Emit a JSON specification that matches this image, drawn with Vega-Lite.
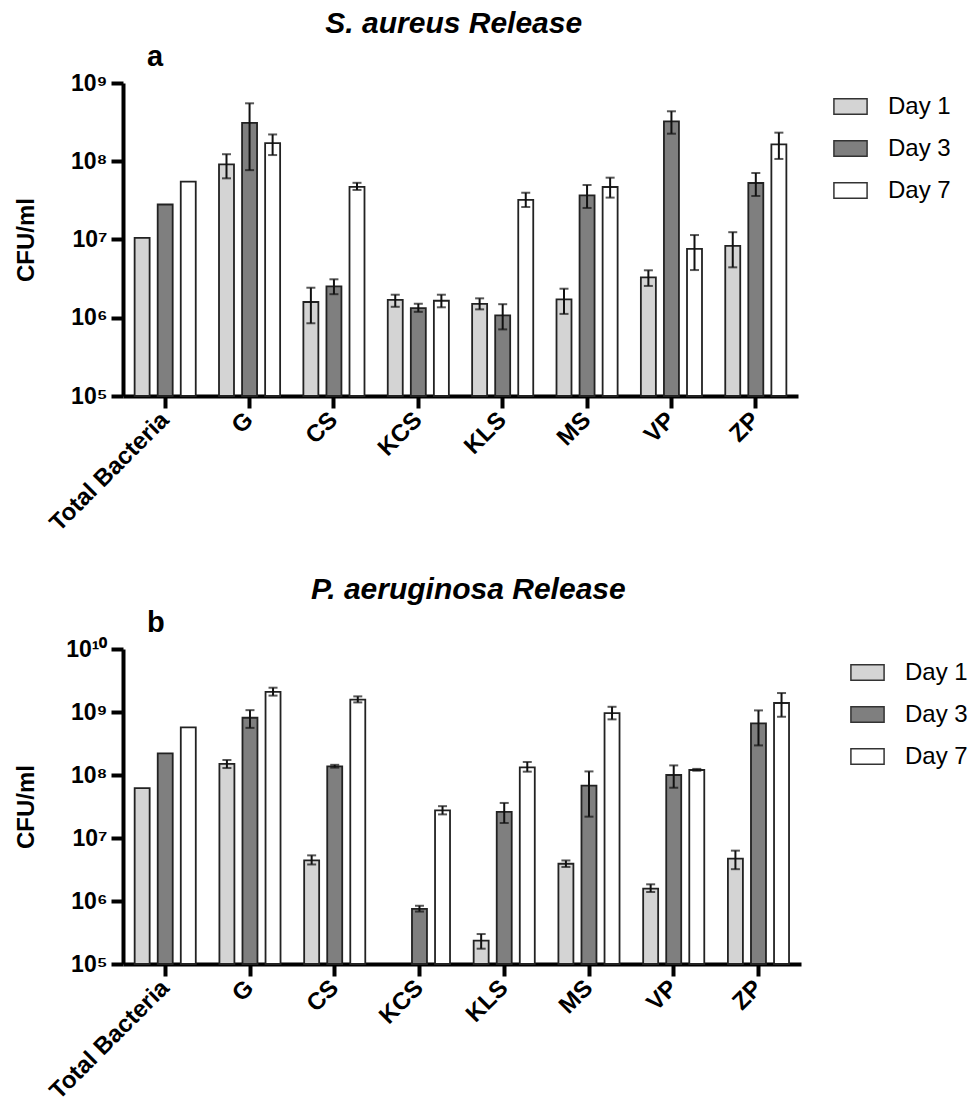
{
  "$schema": "https://vega.github.io/schema/vega-lite/v6.json",
  "padding": {"left": 14, "top": 9, "right": 5, "bottom": 0},
  "background": "white",
  "config": {
    "font": "Liberation Sans",
    "view": {"stroke": null},
    "axis": {"grid": false, "domainColor": "#000", "domainWidth": 4, "tickColor": "#000", "tickWidth": 4, "tickSize": 12, "labelColor": "#000", "labelFontWeight": "bold", "titleColor": "#000"},
    "legend": {"symbolStrokeColor": "#333", "symbolStrokeWidth": 1.5, "labelFontSize": 24, "labelColor": "#000", "labelOffset": 20, "rowPadding": 12, "padding": 6, "title": null},
    "title": {"color": "#000"}
  },
  "datasets": {
    "saureus": [
      {"cat": "Total Bacteria", "day": "Day 1", "v": 1.05e7, "lo": null, "hi": null},
      {"cat": "Total Bacteria", "day": "Day 3", "v": 2.8e7, "lo": null, "hi": null},
      {"cat": "Total Bacteria", "day": "Day 7", "v": 5.5e7, "lo": null, "hi": null},
      {"cat": "G", "day": "Day 1", "v": 9.1e7, "lo": 6.05e7, "hi": 1.23e8},
      {"cat": "G", "day": "Day 3", "v": 3.1e8, "lo": 7.7e7, "hi": 5.5e8},
      {"cat": "G", "day": "Day 7", "v": 1.7e8, "lo": 1.2e8, "hi": 2.2e8},
      {"cat": "CS", "day": "Day 1", "v": 1.59e6, "lo": 8.5e5, "hi": 2.42e6},
      {"cat": "CS", "day": "Day 3", "v": 2.52e6, "lo": 2.0e6, "hi": 3.1e6},
      {"cat": "CS", "day": "Day 7", "v": 4.7e7, "lo": 4.3e7, "hi": 5.3e7},
      {"cat": "KCS", "day": "Day 1", "v": 1.69e6, "lo": 1.38e6, "hi": 1.97e6},
      {"cat": "KCS", "day": "Day 3", "v": 1.33e6, "lo": 1.19e6, "hi": 1.51e6},
      {"cat": "KCS", "day": "Day 7", "v": 1.65e6, "lo": 1.36e6, "hi": 1.97e6},
      {"cat": "KLS", "day": "Day 1", "v": 1.5e6, "lo": 1.28e6, "hi": 1.77e6},
      {"cat": "KLS", "day": "Day 3", "v": 1.07e6, "lo": 7.1e5, "hi": 1.49e6},
      {"cat": "KLS", "day": "Day 7", "v": 3.2e7, "lo": 2.6e7, "hi": 3.96e7},
      {"cat": "MS", "day": "Day 1", "v": 1.72e6, "lo": 1.12e6, "hi": 2.35e6},
      {"cat": "MS", "day": "Day 3", "v": 3.67e7, "lo": 2.53e7, "hi": 4.97e7},
      {"cat": "MS", "day": "Day 7", "v": 4.69e7, "lo": 3.43e7, "hi": 6.17e7},
      {"cat": "VP", "day": "Day 1", "v": 3.29e6, "lo": 2.55e6, "hi": 4.04e6},
      {"cat": "VP", "day": "Day 3", "v": 3.24e8, "lo": 2.25e8, "hi": 4.35e8},
      {"cat": "VP", "day": "Day 7", "v": 7.57e6, "lo": 4.07e6, "hi": 1.14e7},
      {"cat": "ZP", "day": "Day 1", "v": 8.27e6, "lo": 4.41e6, "hi": 1.24e7},
      {"cat": "ZP", "day": "Day 3", "v": 5.27e7, "lo": 3.6e7, "hi": 7.08e7},
      {"cat": "ZP", "day": "Day 7", "v": 1.64e8, "lo": 1.07e8, "hi": 2.32e8}
    ],
    "paeru": [
      {"cat": "Total Bacteria", "day": "Day 1", "v": 6.2e7, "lo": null, "hi": null},
      {"cat": "Total Bacteria", "day": "Day 3", "v": 2.2e8, "lo": null, "hi": null},
      {"cat": "Total Bacteria", "day": "Day 7", "v": 5.7e8, "lo": null, "hi": null},
      {"cat": "G", "day": "Day 1", "v": 1.5e8, "lo": 1.29e8, "hi": 1.73e8},
      {"cat": "G", "day": "Day 3", "v": 8.1e8, "lo": 5.6e8, "hi": 1.07e9},
      {"cat": "G", "day": "Day 7", "v": 2.08e9, "lo": 1.82e9, "hi": 2.43e9},
      {"cat": "CS", "day": "Day 1", "v": 4.4e6, "lo": 3.8e6, "hi": 5.3e6},
      {"cat": "CS", "day": "Day 3", "v": 1.37e8, "lo": 1.31e8, "hi": 1.45e8},
      {"cat": "CS", "day": "Day 7", "v": 1.57e9, "lo": 1.42e9, "hi": 1.77e9},
      {"cat": "KCS", "day": "Day 3", "v": 7.5e5, "lo": 6.8e5, "hi": 8.4e5},
      {"cat": "KCS", "day": "Day 7", "v": 2.74e7, "lo": 2.37e7, "hi": 3.2e7},
      {"cat": "KLS", "day": "Day 1", "v": 2.35e5, "lo": 1.75e5, "hi": 2.99e5},
      {"cat": "KLS", "day": "Day 3", "v": 2.59e7, "lo": 1.73e7, "hi": 3.6e7},
      {"cat": "KLS", "day": "Day 7", "v": 1.32e8, "lo": 1.13e8, "hi": 1.61e8},
      {"cat": "MS", "day": "Day 1", "v": 3.9e6, "lo": 3.47e6, "hi": 4.4e6},
      {"cat": "MS", "day": "Day 3", "v": 6.76e7, "lo": 2.18e7, "hi": 1.14e8},
      {"cat": "MS", "day": "Day 7", "v": 9.6e8, "lo": 7.64e8, "hi": 1.21e9},
      {"cat": "VP", "day": "Day 1", "v": 1.57e6, "lo": 1.39e6, "hi": 1.84e6},
      {"cat": "VP", "day": "Day 3", "v": 1.0e8, "lo": 6.28e7, "hi": 1.42e8},
      {"cat": "VP", "day": "Day 7", "v": 1.2e8, "lo": 1.17e8, "hi": 1.25e8},
      {"cat": "ZP", "day": "Day 1", "v": 4.69e6, "lo": 3.2e6, "hi": 6.3e6},
      {"cat": "ZP", "day": "Day 3", "v": 6.6e8, "lo": 2.95e8, "hi": 1.06e9},
      {"cat": "ZP", "day": "Day 7", "v": 1.39e9, "lo": 8.4e8, "hi": 2.0e9}
    ]
  },
  "columns": 1,
  "align": "none",
  "spacing": 39,
  "resolve": {"scale": {"fill": "independent"}, "legend": {"fill": "independent"}},
  "concat": [
    {
      "title": {"text": "S. aureus Release", "fontSize": 30, "fontWeight": "bold", "fontStyle": "italic", "anchor": "middle", "dx": -32},
      "vconcat": [
        {
          "title": {"text": "a", "anchor": "start", "frame": "group", "fontSize": 29, "fontWeight": "bold", "dx": 24, "offset": 0},
          "width": 675,
          "height": 313,
          "data": {"name": "saureus"},
          "encoding": {
            "x": {"field": "cat", "type": "nominal", "sort": ["Total Bacteria", "G", "CS", "KCS", "KLS", "MS", "VP", "ZP"], "scale": {"paddingInner": 0.18, "paddingOuter": 0.09}, "axis": {"title": null, "labelAngle": -45, "labelFontSize": 24, "labelPadding": 8, "labelBaseline": "middle"}},
            "xOffset": {"field": "day", "type": "nominal", "sort": ["Day 1", "Day 3", "Day 7"], "scale": {"domain": ["Day 1", "Day 3", "Day 7"], "paddingInner": 0.35, "paddingOuter": 0.175}}
          },
          "layer": [
            {
              "mark": {"type": "bar", "stroke": "#222", "strokeWidth": 1.8},
              "encoding": {
                "y": {"field": "v", "type": "quantitative", "stack": null, "scale": {"type": "log", "domain": [100000, 1000000000], "nice": false}, "axis": {"title": "CFU/ml", "titleFontSize": 24, "titleFontWeight": "bold", "titlePadding": 32, "values": [100000, 1000000, 10000000, 100000000, 1000000000], "labelFontSize": 23, "labelPadding": 4, "labelExpr": "datum.value < 5e5 ? '10\u2075' : datum.value < 5e6 ? '10\u2076' : datum.value < 5e7 ? '10\u2077' : datum.value < 5e8 ? '10\u2078' : datum.value < 5e9 ? '10\u2079' : '10\u00b9\u2070'"}},
                "y2": {"datum": 100000},
                "fill": {"field": "day", "type": "nominal", "scale": {"domain": ["Day 1", "Day 3", "Day 7"], "range": ["#d4d4d4", "#7f7f7f", "#ffffff"]}, "legend": {"symbolType": "M-1,-0.47H1V0.47H-1Z", "symbolSize": 1100, "offset": 29}}
              }
            },
            {
              "transform": [{"filter": "datum.lo != null"}],
              "mark": {"type": "rule", "color": "#111", "strokeWidth": 2},
              "encoding": {"y": {"field": "lo", "type": "quantitative"}, "y2": {"field": "hi"}}
            },
            {
              "transform": [{"filter": "datum.lo != null"}],
              "mark": {"type": "tick", "color": "#111", "thickness": 2, "size": 9},
              "encoding": {"y": {"field": "lo", "type": "quantitative"}}
            },
            {
              "transform": [{"filter": "datum.hi != null"}],
              "mark": {"type": "tick", "color": "#111", "thickness": 2, "size": 9},
              "encoding": {"y": {"field": "hi", "type": "quantitative"}}
            }
          ]
        }
      ]
    },
    {
      "title": {"text": "P. aeruginosa Release", "fontSize": 30, "fontWeight": "bold", "fontStyle": "italic", "anchor": "middle", "dx": -26},
      "vconcat": [
        {
          "title": {"text": "b", "anchor": "start", "frame": "group", "fontSize": 29, "fontWeight": "bold", "dx": 24, "offset": 0},
          "width": 678,
          "height": 315,
          "data": {"name": "paeru"},
          "encoding": {
            "x": {"field": "cat", "type": "nominal", "sort": ["Total Bacteria", "G", "CS", "KCS", "KLS", "MS", "VP", "ZP"], "scale": {"paddingInner": 0.18, "paddingOuter": 0.09}, "axis": {"title": null, "labelAngle": -45, "labelFontSize": 24, "labelPadding": 8, "labelBaseline": "middle"}},
            "xOffset": {"field": "day", "type": "nominal", "sort": ["Day 1", "Day 3", "Day 7"], "scale": {"domain": ["Day 1", "Day 3", "Day 7"], "paddingInner": 0.35, "paddingOuter": 0.175}}
          },
          "layer": [
            {
              "mark": {"type": "bar", "stroke": "#222", "strokeWidth": 1.8},
              "encoding": {
                "y": {"field": "v", "type": "quantitative", "stack": null, "scale": {"type": "log", "domain": [100000, 10000000000], "nice": false}, "axis": {"title": "CFU/ml", "titleFontSize": 24, "titleFontWeight": "bold", "titlePadding": 27, "values": [100000, 1000000, 10000000, 100000000, 1000000000, 10000000000], "labelFontSize": 23, "labelPadding": 4, "labelExpr": "datum.value < 5e5 ? '10\u2075' : datum.value < 5e6 ? '10\u2076' : datum.value < 5e7 ? '10\u2077' : datum.value < 5e8 ? '10\u2078' : datum.value < 5e9 ? '10\u2079' : '10\u00b9\u2070'"}},
                "y2": {"datum": 100000},
                "fill": {"field": "day", "type": "nominal", "scale": {"domain": ["Day 1", "Day 3", "Day 7"], "range": ["#d4d4d4", "#7f7f7f", "#ffffff"]}, "legend": {"symbolType": "M-1,-0.47H1V0.47H-1Z", "symbolSize": 1100, "offset": 43}}
              }
            },
            {
              "transform": [{"filter": "datum.lo != null"}],
              "mark": {"type": "rule", "color": "#111", "strokeWidth": 2},
              "encoding": {"y": {"field": "lo", "type": "quantitative"}, "y2": {"field": "hi"}}
            },
            {
              "transform": [{"filter": "datum.lo != null"}],
              "mark": {"type": "tick", "color": "#111", "thickness": 2, "size": 9},
              "encoding": {"y": {"field": "lo", "type": "quantitative"}}
            },
            {
              "transform": [{"filter": "datum.hi != null"}],
              "mark": {"type": "tick", "color": "#111", "thickness": 2, "size": 9},
              "encoding": {"y": {"field": "hi", "type": "quantitative"}}
            }
          ]
        }
      ]
    }
  ]
}
